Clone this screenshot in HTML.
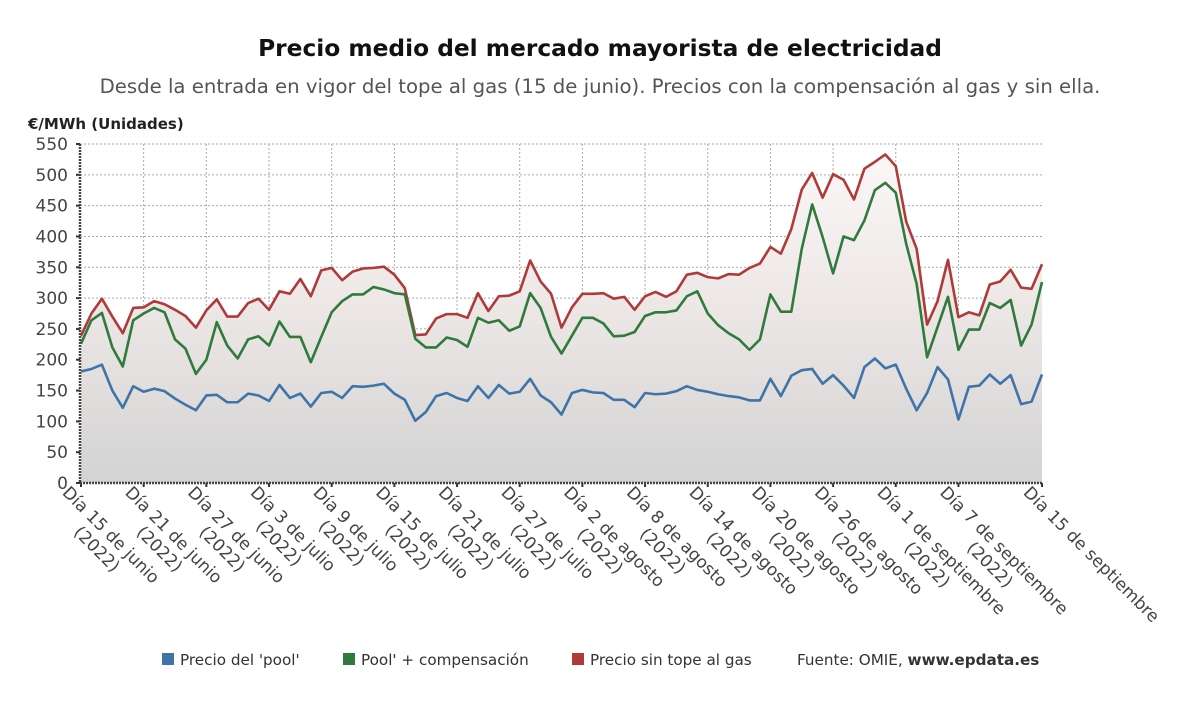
<!DOCTYPE html>
<html><head><meta charset="utf-8"><style>
body{margin:0;background:#fff;font-family:"DejaVu Sans","Liberation Sans",sans-serif;}
svg{display:block}
</style></head><body>
<svg id="chart" width="1200" height="705" xmlns="http://www.w3.org/2000/svg" font-family="DejaVu Sans, Liberation Sans, sans-serif">
<defs>
<linearGradient id="bg" x1="0" y1="0" x2="0" y2="1">
<stop offset="0" stop-color="#fbf7f7"/><stop offset="0.45" stop-color="#ede8e6"/><stop offset="1" stop-color="#d3d3d3"/>
</linearGradient>
</defs>
<text x="600" y="56" text-anchor="middle" font-size="23.3" font-weight="bold" fill="#111">Precio medio del mercado mayorista de electricidad</text>
<text x="600" y="93" text-anchor="middle" font-size="19.7" fill="#555">Desde la entrada en vigor del tope al gas (15 de junio). Precios con la compensación al gas y sin ella.</text>
<text x="28" y="129" font-size="15" font-weight="bold" fill="#222">€/MWh (Unidades)</text>
<g id="grid"></g><g id="area"></g><g id="lines"></g><g id="axes"></g><g id="xlabels"></g>
<g font-size="15.2" fill="#333">
<rect x="162" y="653" width="12" height="12" fill="#3f74a8"/>
<text x="180" y="665">Precio del 'pool'</text>
<rect x="343" y="653" width="12" height="12" fill="#2f7a3c"/>
<text x="361" y="665">Pool' + compensación</text>
<rect x="572" y="653" width="12" height="12" fill="#b03a3a"/>
<text x="590" y="665">Precio sin tope al gas</text>
<text x="797" y="665">Fuente: OMIE, <tspan font-weight="bold">www.epdata.es</tspan></text>
</g>
</svg>
<script>
const pool=[181,185,192,150,122,157,148,153,149,137,127,118,142,143,131,131,145,142,133,159,138,145,124,146,148,138,157,156,158,161,145,135,101,115,141,146,138,133,157,138,159,145,148,169,142,131,111,146,151,147,146,135,135,123,146,144,145,149,157,151,148,144,141,139,134,134,169,141,174,183,185,161,175,158,138,188,202,186,192,153,118,146,188,168,103,156,158,176,161,175,128,132,176];
const compensacion=[226,264,276,220,189,264,275,284,277,233,218,177,200,261,223,202,233,238,223,262,237,237,196,237,277,295,306,306,318,314,308,306,234,220,220,236,232,221,268,260,264,247,254,308,284,237,210,239,268,268,259,238,239,245,271,277,277,280,303,311,275,256,243,233,216,233,306,278,278,380,452,399,340,400,394,426,475,487,471,388,323,204,253,302,216,249,249,292,284,297,223,257,326];
const sinTope=[239,275,299,270,243,284,285,295,290,281,271,252,280,298,270,270,292,299,281,311,307,331,303,345,349,329,343,348,349,351,338,316,240,241,267,274,274,268,308,279,303,304,311,361,327,307,252,285,307,307,308,299,302,281,303,310,302,311,338,341,334,332,339,338,349,356,383,372,412,476,503,463,501,492,460,510,521,533,514,424,380,257,295,362,269,277,272,322,327,346,317,315,355];
const yTicks=[0,50,100,150,200,250,300,350,400,450,500,550];
const tickIdx=[0,6,12,18,24,30,36,42,48,54,60,66,72,78,84,92];
const tickLabels=["Día 15 de junio","Día 21 de junio","Día 27 de junio","Día 3 de julio","Día 9 de julio","Día 15 de julio","Día 21 de julio","Día 27 de julio","Día 2 de agosto","Día 8 de agosto","Día 14 de agosto","Día 20 de agosto","Día 26 de agosto","Día 1 de septiembre","Día 7 de septiembre","Día 15 de septiembre"];
const tickYears=["(2022)","(2022)","(2022)","(2022)","(2022)","(2022)","(2022)","(2022)","(2022)","(2022)","(2022)","(2022)","(2022)","(2022)","(2022)",""];
const NS="http://www.w3.org/2000/svg";
const L=80,R=1042,T=144,B=483,N=pool.length;
const x=i=>L+1+i*(R-L-1)/(N-1);
const y=v=>B-(v/550)*(B-T);
function mk(tag,attrs,parent){const e=document.createElementNS(NS,tag);for(const k in attrs)e.setAttribute(k,attrs[k]);parent.appendChild(e);return e;}
const grid=document.getElementById('grid'),axes=document.getElementById('axes'),lines=document.getElementById('lines'),area=document.getElementById('area'),xl=document.getElementById('xlabels');
yTicks.forEach(t=>{
 if(t>0){const g=mk('line',{x1:L,x2:R,y1:y(t),y2:y(t),stroke:'#aaa','stroke-dasharray':'2,2','stroke-width':1},grid);
 
 }
 const tx=mk('text',{x:68,y:y(t)+6,'text-anchor':'end','font-size':17,fill:'#444'},axes);
 tx.textContent=t;
 
 
 mk('line',{x1:L-4,x2:L,y1:y(t),y2:y(t),stroke:'#333','stroke-width':2},axes);
});
tickIdx.forEach((ti,k)=>{
 if(ti>0&&k<tickIdx.length-1){const g=mk('line',{x1:x(ti),x2:x(ti),y1:T,y2:B,stroke:'#aaa','stroke-dasharray':'2,2','stroke-width':1},grid);
 
 }
 mk('line',{x1:x(ti),x2:x(ti),y1:B,y2:B+4,stroke:'#333','stroke-width':2},axes);
 const g=mk('g',{transform:`translate(${x(ti)-11},${B+2}) rotate(45)`,'font-size':17,fill:'#444'},xl);
 
 
 const t1=mk('text',{x:0,y:12},g);t1.textContent=tickLabels[k];
 if(tickYears[k]){const w=t1.getComputedTextLength();const t2=mk('text',{x:w/2,y:32,'text-anchor':'middle'},g);t2.textContent=tickYears[k];}
});
let d=`M${x(0)},${B}`;sinTope.forEach((v,i)=>d+=`L${x(i)},${y(v)}`);d+=`L${x(N-1)},${B}Z`;
const a=mk('path',{d:d,fill:'url(#bg)'},area);


[[sinTope,'#b03a3a','line-sin-tope'],[compensacion,'#2f7a3c','line-compensacion'],[pool,'#3f74a8','line-pool']].forEach(([arr,c,n])=>{
 const p=mk('polyline',{points:arr.map((v,i)=>x(i)+','+y(v)).join(' '),fill:'none',stroke:c,'stroke-width':2.6,'stroke-linejoin':'round'},lines);
 
 
});
mk('line',{x1:L,x2:L,y1:T,y2:B,stroke:'#444','stroke-width':2.5,'stroke-dasharray':'2,1'},axes);
mk('line',{x1:L,x2:R,y1:B,y2:B,stroke:'#444','stroke-width':2.5,'stroke-dasharray':'2,1'},axes);
</script>
</body></html>
